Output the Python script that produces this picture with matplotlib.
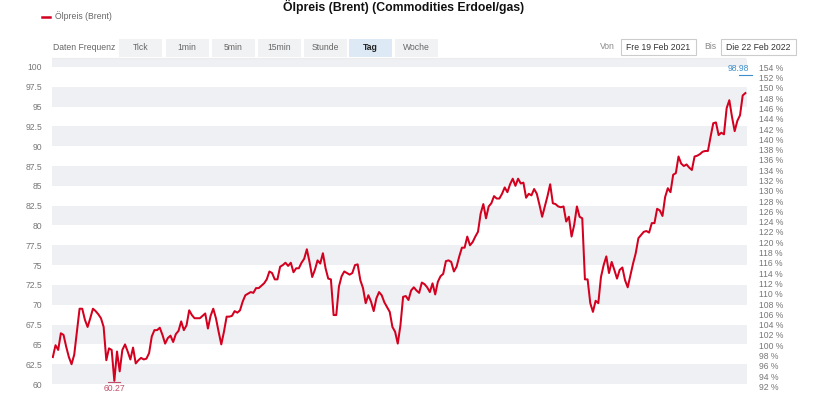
import matplotlib
matplotlib.use("Agg")
import matplotlib.pyplot as plt
from matplotlib.patches import Rectangle
from matplotlib.lines import Line2D
import numpy as np

plt.rcParams['font.family'] = ['Liberation Sans', 'DejaVu Sans']

# ---- data (Brent daily close, 19 Feb 2021 .. 22 Feb 2022) ----
prices = [
    63.4, 64.9, 64.3, 66.4, 66.2, 64.7, 63.4, 62.5, 63.7, 66.6, 69.5, 69.5, 68.1, 67.2, 68.3, 69.5, 69.2,
    68.8, 68.3, 67.2, 63.0, 64.5, 64.3, 60.4, 64.1, 61.6, 64.3, 65.0, 64.1, 63.1, 64.6, 62.6, 63.0, 63.3,
    63.1, 63.2, 63.9, 66.0, 66.8, 66.8, 67.1, 66.2, 65.1, 65.8, 66.1, 65.3, 66.3, 66.7, 67.9, 66.8, 67.4,
    69.3, 68.7, 68.3, 68.3, 68.3, 68.6, 68.9, 67.0, 68.6, 69.5, 68.3, 66.6, 65.0, 66.6, 68.5, 68.5,
    68.6, 69.2, 69.0, 69.3, 70.4, 71.2, 71.4, 71.6, 71.5, 72.1, 72.1, 72.4, 72.7, 73.2, 74.2, 74.0, 73.2,
    73.2, 74.8, 75.0, 75.3, 74.9, 75.3, 74.1, 74.6, 74.6, 75.3, 75.8, 77.0, 75.4, 73.5, 74.4, 75.6, 75.2,
    76.5, 74.6, 73.3, 73.2, 68.7, 68.7, 72.3, 73.6, 74.2, 74.0, 73.8, 74.0, 75.0, 75.1, 73.1, 72.1, 70.2,
    71.2, 70.4, 69.2, 70.8, 71.6, 71.2, 70.3, 69.7, 69.1, 67.2, 66.6, 65.1, 67.4, 71.0, 71.1, 70.6,
    71.8, 72.2, 71.8, 71.5, 72.8, 72.6, 72.2, 71.6, 72.7, 71.3, 72.9, 73.6, 73.9, 75.5, 75.6, 75.4, 74.2,
    74.8, 76.1, 77.2, 77.2, 78.6, 77.5, 77.9, 78.6, 79.2, 81.5, 82.7, 80.9, 82.4, 82.8, 83.7, 83.4, 83.4,
    84.0, 84.8, 84.2, 85.2, 85.9, 85.0, 85.9, 85.3, 85.4, 83.5, 84.0, 83.8, 84.6, 84.0, 82.6, 81.1, 82.4,
    83.7, 85.2, 82.8, 82.7, 82.4, 82.3, 82.4, 80.5, 81.1, 78.6, 80.1, 82.4, 81.1, 80.9, 73.2, 73.2,
    70.2, 69.1, 70.5, 70.2, 73.5, 75.0, 76.1, 74.0, 75.4, 74.4, 73.3, 74.4, 74.7, 73.1, 72.2, 73.7, 75.2,
    76.5, 78.4, 78.8, 79.2, 79.3, 79.1, 80.3, 80.3, 82.1, 81.9, 81.2, 83.6, 84.7, 84.2, 86.4, 86.6, 88.7,
    87.8, 87.5, 87.7, 87.3, 87.0, 88.7, 88.8, 89.0, 89.3, 89.4, 89.4, 91.2, 92.9, 93.0, 91.4, 91.7, 91.5,
    94.8, 95.8, 93.7, 91.9, 93.2, 93.9, 96.4, 96.7,
]
low_label = 60.27
high_label = 98.98
base_price = 64.9
left_ticks = [60, 62.5, 65, 67.5, 70, 72.5, 75, 77.5, 80, 82.5, 85, 87.5, 90, 92.5, 95, 97.5, 100]
pct_ticks = list(range(92, 156, 2))
freq_buttons = ["Tick", "1min", "5min", "15min", "Stunde", "Tag", "Woche"]
title = "Ölpreis (Brent) (Commodities Erdoel/gas)"
series_name = "Ölpreis (Brent)"
date_from = "Fre 19 Feb 2021"
date_to = "Die 22 Feb 2022"

W, H = 830, 393
fig = plt.figure(figsize=(W / 100, H / 100), dpi=100)

def fx(px):
    return px / W

def fy(py):
    return 1 - py / H

ax_left, ax_right, ax_top, ax_bot = 52.3, 746.7, 59.0, 387.2
ax = fig.add_axes([fx(ax_left), fy(ax_bot), (ax_right - ax_left) / W, (ax_bot - ax_top) / H])

line_col = '#d3001f'
band_col = '#eef0f3'
tick_col = '#777777'
fs = 6.2

x = np.arange(len(prices))
ymin, ymax = 59.6, 101.0
ax.set_ylim(ymin, ymax)
ax.set_xlim(-0.2, len(prices) - 1 + 0.5)

# bands
for lo in [60, 65, 70, 75, 80, 85, 90, 95]:
    ax.axhspan(lo, lo + 2.5, color=band_col, lw=0, zorder=0)
ax.axhspan(100, 101, color=band_col, lw=0, zorder=0)

ax.plot(x, prices, color=line_col, lw=1.45, zorder=3, solid_joinstyle='round')

# min / max markers
imin = int(np.argmin(prices))
imax = len(prices) - 1
ax.plot([imin - 2.3, imin + 2.3], [low_label, low_label], color='#c0506a', lw=0.8, zorder=4, clip_on=False)
ax.annotate(f"{low_label:.2f}", (imin, low_label), xytext=(0, -1.5), textcoords='offset points',
            ha='center', va='top', fontsize=fs, color='#c0506a', annotation_clip=False)
ax.plot([imax - 2.3, imax + 2.3], [high_label, high_label], color='#3d8fcc', lw=0.8, zorder=4, clip_on=False)
ax.annotate(f"{high_label:.2f}", (imax + 1.4, high_label), xytext=(0, 1.5), textcoords='offset points',
            ha='right', va='bottom', fontsize=fs, color='#3d8fcc', annotation_clip=False)

ax.set_yticks(left_ticks)
ax.set_yticklabels([f"{t:g}" for t in left_ticks])
ax.tick_params(axis='y', length=0, pad=7.5, labelsize=fs, labelcolor=tick_col)
ax.set_xticks([])
for s in ax.spines.values():
    s.set_visible(False)

ax2 = ax.twinx()
ax2.set_ylim(ymin / base_price * 100, ymax / base_price * 100)
ax2.set_yticks(pct_ticks)
ax2.set_yticklabels([f"{t} %" for t in pct_ticks])
ax2.tick_params(axis='y', length=0, pad=9, labelsize=fs, labelcolor=tick_col)
for s in ax2.spines.values():
    s.set_visible(False)

# title and legend
fig.text(fx(404), fy(7), title, ha='center', va='center', fontsize=8.8, fontweight='bold', color='#111111')
fig.add_artist(Line2D([fx(41.5), fx(50)], [fy(16.5), fy(16.5)], color=line_col, lw=1.8))
fig.text(fx(55), fy(16.5), series_name, ha='left', va='center', fontsize=fs, color='#666666')

# frequency buttons
fig.text(fx(53), fy(47), "Daten Frequenz", ha='left', va='center', fontsize=fs, color='#666666')
bx = [119.3, 165.7, 211.7, 257.7, 304.0, 349.3, 395.0]
for i, (lbl, x0) in enumerate(zip(freq_buttons, bx)):
    active = lbl == "Tag"
    fig.add_artist(Rectangle((fx(x0), fy(56.7)), 43 / W, 17.4 / H, transform=fig.transFigure,
                             facecolor='#dde9f5' if active else '#f1f2f4', edgecolor='none'))
    fig.text(fx(x0 + 21.5), fy(47), lbl, ha='center', va='center', fontsize=fs,
             color='#222222' if active else '#666666', fontweight='bold' if active else 'normal')
fig.add_artist(Line2D([fx(52), fx(745)], [fy(58), fy(58)], color='#ececec', lw=0.8))

# date range
fig.text(fx(600), fy(46.5), "Von", ha='left', va='center', fontsize=fs, color='#888888')
fig.add_artist(Rectangle((fx(621), fy(55)), 75 / W, 15.5 / H, transform=fig.transFigure,
                         facecolor='white', edgecolor='#cccccc', lw=0.8))
fig.text(fx(658.5), fy(47), date_from, ha='center', va='center', fontsize=fs, color='#333333')
fig.text(fx(704), fy(46.5), "Bis", ha='left', va='center', fontsize=fs, color='#888888')
fig.add_artist(Rectangle((fx(721), fy(55)), 75 / W, 15.5 / H, transform=fig.transFigure,
                         facecolor='white', edgecolor='#cccccc', lw=0.8))
fig.text(fx(758.5), fy(47), date_to, ha='center', va='center', fontsize=fs, color='#333333')

fig.savefig("out.png", dpi=100)
